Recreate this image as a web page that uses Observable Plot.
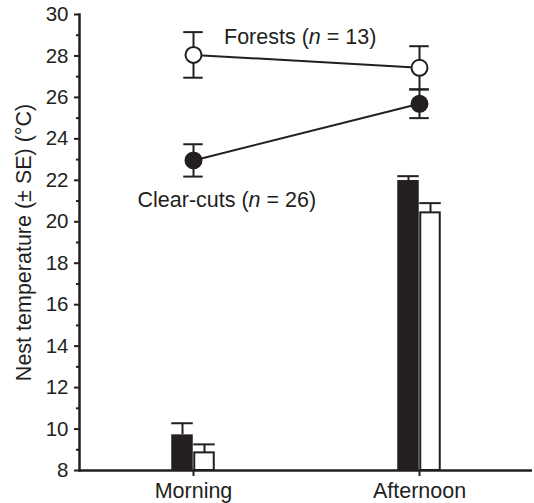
<!DOCTYPE html>
<html><head><meta charset="utf-8">
<script src="https://cdn.jsdelivr.net/npm/d3@7"></script>
<script src="https://cdn.jsdelivr.net/npm/@observablehq/plot@0.6"></script>
<style>
body{margin:0;background:#fff}
svg{font-family:"Liberation Sans",Arial,sans-serif}
</style>
</head><body><div id="chart"></div>
<script>
const periods = ["Morning", "Afternoon"];
const forestMean = [28.05, 27.43];
const forestSE = [1.1, 1.04];
const clearMean = [22.96, 25.69];
const clearSE = [0.78, 0.69];
const clearBar = [9.72, 21.99];
const clearBarSE = [0.56, 0.21];
const forestBar = [8.85, 20.43];
const forestBarSE = [0.41, 0.47];
const yTicks = [8, 10, 12, 14, 16, 18, 20, 22, 24, 26, 28, 30];
const yMinor = [9, 11, 13, 15, 17, 19, 21, 23, 25, 27, 29];
const yTitle = "Nest temperature (± SE) (°C)";
const forestLabel = [{period: "Morning", y: 28.89, text: "Forests (n = 13)"}];
const clearLabel = [{period: "Morning", y: 21.04, text: "Clear-cuts (n = 26)"}];

const forests = periods.map((p, i) => ({period: p, mean: forestMean[i], lo: forestMean[i] - forestSE[i], hi: forestMean[i] + forestSE[i]}));
const clears = periods.map((p, i) => ({period: p, mean: clearMean[i], lo: clearMean[i] - clearSE[i], hi: clearMean[i] + clearSE[i]}));
const barsClear = periods.map((p, i) => ({period: p, v: clearBar[i], hi: clearBar[i] + clearBarSE[i]}));
const barsForest = periods.map((p, i) => ({period: p, v: forestBar[i], hi: forestBar[i] + forestBarSE[i]}));

const W = 534, ML = 79, MR = 2;
const half = (W - ML - MR) / 4;
const bw = 22;
const capHalf = 10;
const ink = "#231f20";

const chart = Plot.plot({
  width: W, height: 503,
  marginLeft: ML, marginRight: MR, marginTop: 14, marginBottom: 33,
  style: {fontSize: "20px", color: ink, background: "#fff"},
  x: {type: "band", domain: periods, padding: 0, label: null},
  y: {domain: [8, 30], label: null},
  marks: [
    // bars
    Plot.barY(barsClear, {x: "period", y1: 8, y2: "v", fill: ink, insetLeft: half - bw, insetRight: half}),
    Plot.barY(barsForest, {x: "period", y1: 8, y2: "v", fill: "#fff", stroke: ink, strokeWidth: 2, insetLeft: half + 1, insetRight: half - bw + 1}),
    Plot.ruleX(barsClear, {x: "period", y1: "v", y2: "hi", dx: -bw / 2, stroke: ink, strokeWidth: 2}),
    Plot.ruleX(barsForest, {x: "period", y1: "v", y2: "hi", dx: bw / 2, stroke: ink, strokeWidth: 2}),
    Plot.tickY(barsClear, {x: "period", y: "hi", insetLeft: half - bw, insetRight: half, stroke: ink, strokeWidth: 2}),
    Plot.tickY(barsForest, {x: "period", y: "hi", insetLeft: half, insetRight: half - bw, stroke: ink, strokeWidth: 2}),
    // axes
    Plot.axisY({ticks: yMinor, tickSize: 3, tickFormat: () => "", strokeWidth: 2}),
    Plot.axisY({ticks: yTicks, tickSize: 5, tickPadding: 6, strokeWidth: 2, fontSize: 20.5, label: null}),
    Plot.axisX({tickSize: 6, tickPadding: 6, strokeWidth: 2, fontSize: 21.5, label: null}),
    Plot.ruleY([8], {stroke: ink, strokeWidth: 2.5}),
    Plot.frame({anchor: "left", stroke: ink, strokeWidth: 2.5}),
    Plot.text([yTitle], {frameAnchor: "left", textAnchor: "middle", lineAnchor: "middle", rotate: -90, dx: -55.5, fontSize: 21.5, fill: ink}),
    // lines with error bars
    Plot.line(forests, {x: "period", y: "mean", stroke: ink, strokeWidth: 2}),
    Plot.line(clears, {x: "period", y: "mean", stroke: ink, strokeWidth: 2}),
    Plot.ruleX(forests, {x: "period", y1: "lo", y2: "hi", stroke: ink, strokeWidth: 2}),
    Plot.ruleX(clears, {x: "period", y1: "lo", y2: "hi", stroke: ink, strokeWidth: 2}),
    Plot.tickY(forests, {x: "period", y: "lo", insetLeft: half - capHalf, insetRight: half - capHalf, stroke: ink, strokeWidth: 2}),
    Plot.tickY(forests, {x: "period", y: "hi", insetLeft: half - capHalf, insetRight: half - capHalf, stroke: ink, strokeWidth: 2}),
    Plot.tickY(clears, {x: "period", y: "lo", insetLeft: half - capHalf, insetRight: half - capHalf, stroke: ink, strokeWidth: 2}),
    Plot.tickY(clears, {x: "period", y: "hi", insetLeft: half - capHalf, insetRight: half - capHalf, stroke: ink, strokeWidth: 2}),
    Plot.dot(forests, {x: "period", y: "mean", r: 8, fill: "#fff", stroke: ink, strokeWidth: 2}),
    Plot.dot(clears, {x: "period", y: "mean", r: 8, fill: ink, stroke: ink, strokeWidth: 2}),
    // labels
    Plot.text(forestLabel, {x: "period", y: "y", text: "text", dx: 30.5, textAnchor: "start", fontSize: 21.5, fill: ink}),
    Plot.text(clearLabel, {x: "period", y: "y", text: "text", dx: -56, textAnchor: "start", fontSize: 21.5, fill: ink})
  ]
});
document.getElementById("chart").appendChild(chart);

// italic "n" in the sample-size labels
const labelTexts = [forestLabel[0].text, clearLabel[0].text];
d3.select(chart).selectAll("text").each(function() {
  const t = this.textContent;
  if (labelTexts.includes(t)) {
    const m = t.match(/^(.*\()n( = .*)$/);
    const el = d3.select(this);
    el.text("");
    el.append("tspan").text(m[1]);
    el.append("tspan").attr("font-style", "italic").text("n");
    el.append("tspan").text(m[2]);
  }
});
</script>
</body></html>
